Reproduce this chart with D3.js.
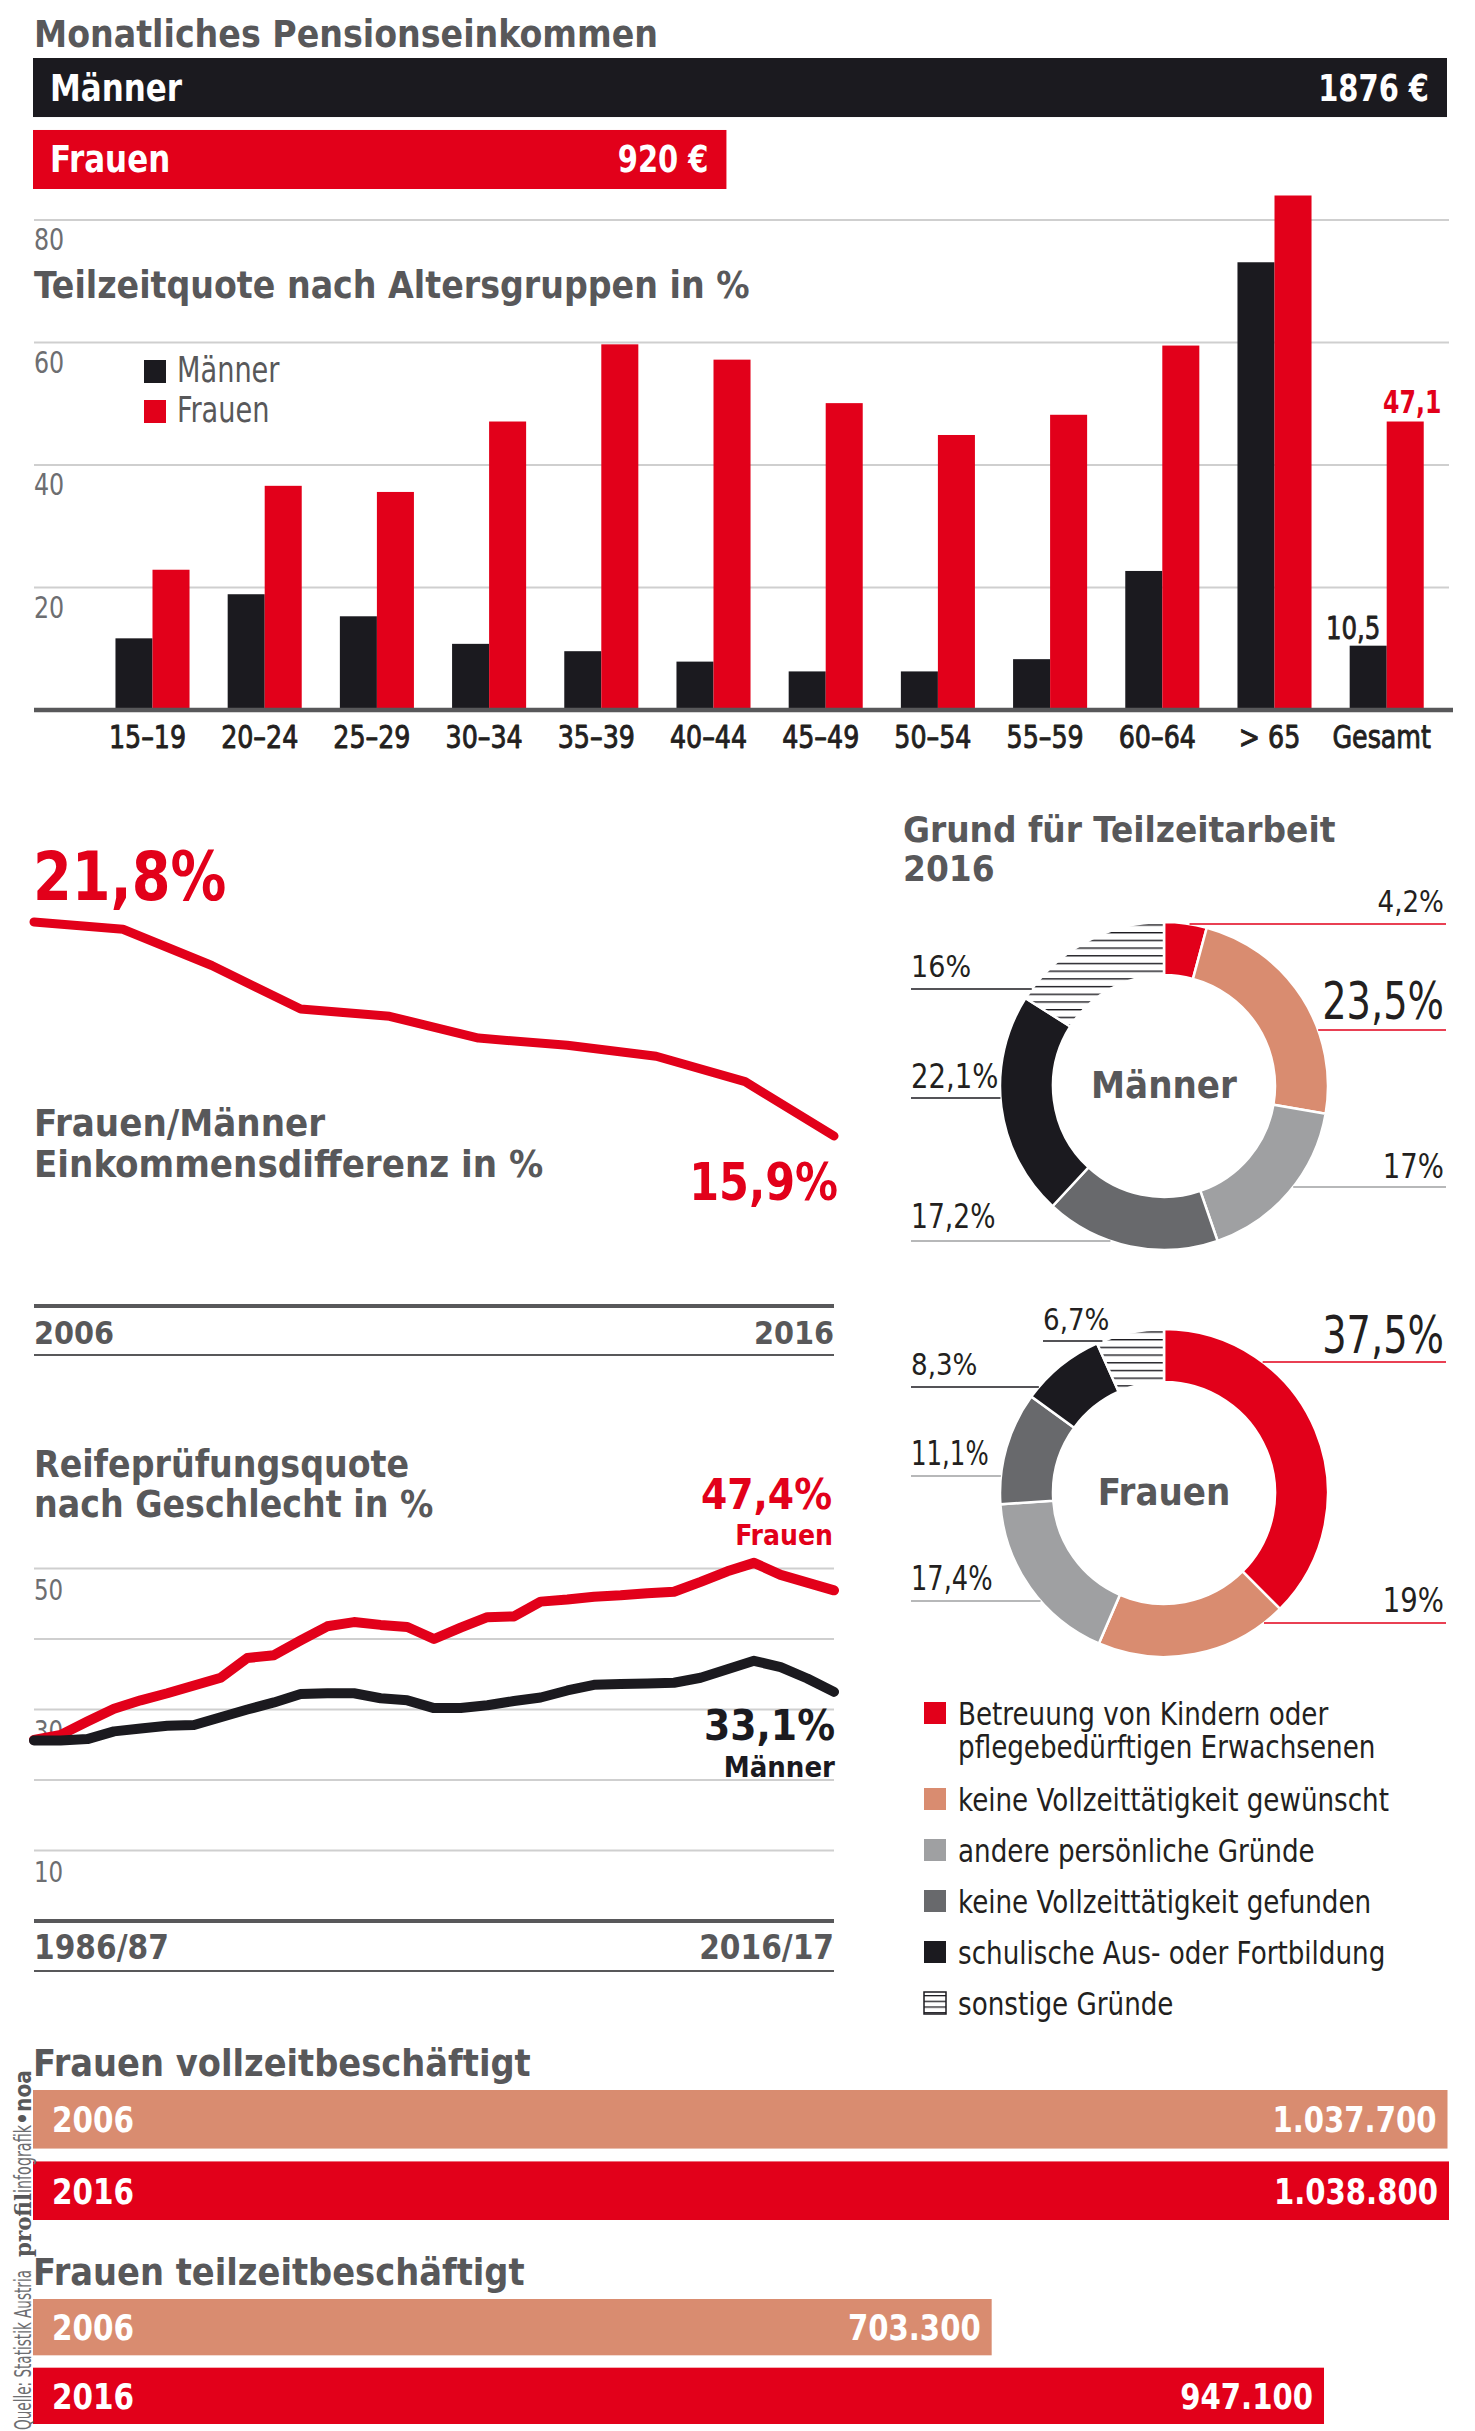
<!DOCTYPE html>
<html><head><meta charset="utf-8">
<script src="https://cdn.jsdelivr.net/npm/d3@7"></script>
<style>
body{margin:0;background:#fff}
svg{display:block}
text{font-family:'Liberation Sans Narrow','Arial Narrow','DejaVu Sans Condensed','Roboto Condensed',sans-serif;font-stretch:condensed}
</style></head><body>
<svg id="c" width="1475" height="2431"></svg>
<script>
// ---------- DATA ----------
const pensionLabels = ["Männer", "Frauen"];
const pensionValues = [1876, 920];

const ageGroups = ["15–19","20–24","25–29","30–34","35–39","40–44","45–49","50–54","55–59","60–64","> 65","Gesamt"];
const partTimeMen   = [11.7, 18.9, 15.3, 10.8, 9.6, 7.9, 6.3, 6.3, 8.3, 22.7, 73.1, 10.5];
const partTimeWomen = [22.9, 36.6, 35.6, 47.1, 59.7, 57.2, 50.1, 44.9, 48.2, 59.5, 84.0, 47.1];
const partTimeTicks = [20, 40, 60, 80];

const gapValues = [21.8, 21.6, 20.6, 19.4, 19.2, 18.6, 18.4, 18.1, 17.4, 15.9];
const gapAxisLabels = ["2006", "2016"];

const maturaYears = d3.range(1986, 2017).map(y => y + "/" + String(y + 1).slice(2));
const maturaWomen = [25.7,26.4,28.3,30.1,31.3,32.3,33.4,34.5,37.3,37.7,39.8,41.8,42.4,42.0,41.7,40.0,41.6,43.1,43.2,45.3,45.6,46.0,46.2,46.5,46.7,48.1,49.6,50.8,49.1,48.0,46.9];
const maturaMen   = [25.6,25.6,25.8,26.9,27.3,27.7,27.8,28.9,30.0,31.0,32.2,32.3,32.3,31.6,31.3,30.2,30.2,30.6,31.2,31.7,32.7,33.5,33.6,33.7,33.8,34.5,35.7,36.9,36.0,34.4,32.5];
const maturaTicks = [10, 20, 30, 40, 50];
const maturaTickLabels = [10, 30, 50];
const maturaEndLabels = ["47,4%", "33,1%"];

const reasons = [["Betreuung von Kindern oder","pflegebedürftigen Erwachsenen"],["keine Vollzeittätigkeit gewünscht"],["andere persönliche Gründe"],["keine Vollzeittätigkeit gefunden"],["schulische Aus- oder Fortbildung"],["sonstige Gründe"]];
const reasonsMen   = [4.2, 23.5, 17, 17.2, 22.1, 16];
const reasonsWomen = [37.5, 19, 17.4, 11.1, 8.3, 6.7];

const fullYears = ["2006", "2016"];
const fullTimeWomen = [1037700, 1038800];
const partTimeWomenAbs = [703300, 947100];

// ---------- STYLE ----------
const C = {red:"#e2001a", black:"#1b1a1f", salmon:"#d98c70", lgray:"#9fa0a2", dgray:"#68696c",
           title:"#58585a", grid:"#cfcfcf", text:"#231f20", tick:"#6d6e71"};
const reasonFill = [C.red, C.salmon, C.lgray, C.dgray, C.black, "url(#hatch)"];
const reasonLine = [C.red, C.red, C.lgray, C.lgray, C.black, C.black];

const svg = d3.select("#c");
const defs = svg.append("defs");
function hatch(id, h, sw){
  const p = defs.append("pattern").attr("id", id).attr("patternUnits","userSpaceOnUse")
    .attr("width", 20).attr("height", h);
  p.append("rect").attr("width",20).attr("height",h).attr("fill","#fff");
  p.append("rect").attr("y", 0).attr("width",20).attr("height",sw).attr("fill",C.black);
}
hatch("hatch", 7.7, 1.4);
hatch("hatch2", 5.7, 1.3);

// text helper: optional horizontal condensing (sx), multi-line (array + lh), faux-medium (sw)
function txt(g, x, y, s, fs, o = {}) {
  const t = g.append("text").attr("font-size", fs).attr("font-weight", o.w || "normal")
    .attr("fill", o.c || C.text).attr("text-anchor", o.a || "start");
  if (o.sw) t.attr("stroke", o.c || C.text).attr("stroke-width", o.sw).attr("stroke-linejoin", "round");
  const sx = o.sx || 1;
  t.attr("transform", `translate(${x},${y}) scale(${sx},1)`);
  const lines = Array.isArray(s) ? s : [s];
  if (lines.length === 1) t.text(lines[0]);
  else lines.forEach((l, k) => t.append("tspan").attr("x", 0).attr("y", k * (o.lh || fs)).text(l));
  return t;
}
const fmtDE = d3.formatLocale({decimal:",", thousands:".", grouping:[3], currency:["","€"]});
const fmtInt = fmtDE.format(",d");
const fmt1 = v => String(v).replace(".", ",");
const fmtPct = v => fmt1(v) + "%";

// ---------- 1. Monatliches Pensionseinkommen ----------
const g1 = svg.append("g");
txt(g1, 34, 47, "Monatliches Pensionseinkommen", 37, {w:"bold", c:C.title});
const xP = d3.scaleLinear().domain([0, d3.max(pensionValues)]).range([0, 1414]);
const yP = d3.scaleBand().domain(pensionLabels).range([58, 189]).paddingInner(0.18);
pensionLabels.forEach((l, i) => {
  const v = pensionValues[i], y = yP(l), h = yP.bandwidth();
  g1.append("rect").attr("x", 33).attr("y", y).attr("width", xP(v)).attr("height", h)
    .attr("fill", i === 0 ? C.black : C.red);
  txt(g1, 50, y + h/2 + 13, l, 37, {w:"bold", c:"#fff", sx:0.93});
  txt(g1, 33 + xP(v) - 18, y + h/2 + 13, v + " €", 37, {w:"bold", c:"#fff", a:"end", sx:0.87});
});

// ---------- 2. Teilzeitquote nach Altersgruppen ----------
const g2 = svg.append("g");
const x0 = d3.scaleBand().domain(ageGroups).range([96.4, 1442.8]).paddingInner(0.34).paddingOuter(0.17);
const x1 = d3.scaleBand().domain(["m","f"]).range([0, x0.bandwidth()]);
const yB = d3.scaleLinear().domain([0, 80]).range([710, 220]);

partTimeTicks.forEach(t => {
  g2.append("line").attr("x1", 34).attr("x2", 1449).attr("y1", yB(t)).attr("y2", yB(t))
    .attr("stroke", C.grid).attr("stroke-width", 2);
  txt(g2, 34, yB(t) + 30, t, 30, {c:C.tick, sx:0.88});
});
txt(g2, 34, 298, "Teilzeitquote nach Altersgruppen in %", 37, {w:"bold", c:C.title});

// legend
[["Männer", C.black], ["Frauen", C.red]].forEach((d, i) => {
  g2.append("rect").attr("x", 144).attr("y", 360 + i*40).attr("width", 22).attr("height", 23).attr("fill", d[1]);
  txt(g2, 177, 382 + i*40, d[0], 36, {c:C.title, sx:0.84});
});

ageGroups.forEach((a, i) => {
  [["m", partTimeMen[i], C.black], ["f", partTimeWomen[i], C.red]].forEach(([k, v, col]) => {
    g2.append("rect").attr("x", x0(a) + x1(k)).attr("y", yB(v))
      .attr("width", x1.bandwidth()).attr("height", yB(0) - yB(v)).attr("fill", col);
  });
  txt(g2, x0(a) + x0.bandwidth()/2 - 5, 748, a, 32, {c:C.text, a:"middle", sx:0.88, sw:0.9});
});
g2.append("line").attr("x1", 34).attr("x2", 1453).attr("y1", yB(0)).attr("y2", yB(0))
  .attr("stroke", C.title).attr("stroke-width", 4.5);
// value labels for Gesamt
const last = ageGroups.length - 1, ga = ageGroups[last];
txt(g2, x0(ga) + x1("m") + x1.bandwidth()/2 - 15, yB(partTimeMen[last]) - 7, fmt1(partTimeMen[last]), 32, {c:C.text, a:"middle", sx:0.85, sw:0.8});
txt(g2, x0(ga) + x1("f") + x1.bandwidth()/2 + 7, yB(partTimeWomen[last]) - 9, fmt1(partTimeWomen[last]), 32, {w:"bold", c:C.red, a:"middle", sx:0.82});

// ---------- 3. Einkommensdifferenz ----------
const g3 = svg.append("g");
const gx = d3.scalePoint().domain(d3.range(gapValues.length)).range([34, 834]);
const gy = d3.scaleLinear().domain([15.9, 21.8]).range([1136, 922]);
txt(g3, 33, 900, fmtPct(gapValues[0]), 67, {w:"bold", c:C.red, sx:0.925});
g3.append("path").datum(gapValues)
  .attr("d", d3.line().x((d, i) => gx(i)).y(d => gy(d)))
  .attr("fill", "none").attr("stroke", C.red).attr("stroke-width", 9)
  .attr("stroke-linecap", "round").attr("stroke-linejoin", "round");
txt(g3, 34, 1136, ["Frauen/Männer", "Einkommensdifferenz in %"], 38, {w:"bold", c:C.title, lh:41});
txt(g3, 838, 1200, fmtPct(gapValues[gapValues.length - 1]), 51, {w:"bold", c:C.red, a:"end", sx:0.935});
g3.append("line").attr("x1", 34).attr("x2", 834).attr("y1", 1306).attr("y2", 1306).attr("stroke", C.title).attr("stroke-width", 4);
txt(g3, 34, 1344, gapAxisLabels[0], 32, {w:"bold", c:C.title});
txt(g3, 834, 1344, gapAxisLabels[1], 32, {w:"bold", c:C.title, a:"end"});
g3.append("line").attr("x1", 34).attr("x2", 834).attr("y1", 1355).attr("y2", 1355).attr("stroke", C.title).attr("stroke-width", 2);

// ---------- 4. Reifeprüfungsquote ----------
const g4 = svg.append("g");
const mx = d3.scalePoint().domain(maturaYears).range([34, 834]);
const my = d3.scaleLinear().domain([0, 50]).range([1921, 1568.5]);
txt(g4, 34, 1477, ["Reifeprüfungsquote", "nach Geschlecht in %"], 37, {w:"bold", c:C.title, lh:40});
maturaTicks.forEach(t => {
  g4.append("line").attr("x1", 34).attr("x2", 834).attr("y1", my(t)).attr("y2", my(t))
    .attr("stroke", C.grid).attr("stroke-width", 2);
});
maturaTickLabels.forEach(t => txt(g4, 34, my(t) + 31, t, 29, {c:C.tick, sx:0.88}));
const mline = d3.line().x((d, i) => mx(maturaYears[i])).y(d => my(d));
[[maturaWomen, C.red], [maturaMen, C.black]].forEach(([vals, col]) => {
  g4.append("path").datum(vals).attr("d", mline).attr("fill", "none").attr("stroke", col)
    .attr("stroke-width", 10).attr("stroke-linecap", "round").attr("stroke-linejoin", "round");
});
txt(g4, 832, 1509, maturaEndLabels[0], 42, {w:"bold", c:C.red, a:"end"});
txt(g4, 833, 1545, "Frauen", 28, {w:"bold", c:C.red, a:"end"});
txt(g4, 835, 1740, maturaEndLabels[1], 42, {w:"bold", c:C.black, a:"end"});
txt(g4, 835, 1777, "Männer", 29, {w:"bold", c:C.black, a:"end"});
g4.append("line").attr("x1", 34).attr("x2", 834).attr("y1", 1921).attr("y2", 1921).attr("stroke", C.title).attr("stroke-width", 4);
txt(g4, 34, 1959, maturaYears[0], 33, {w:"bold", c:C.title});
txt(g4, 834, 1959, maturaYears[maturaYears.length - 1], 33, {w:"bold", c:C.title, a:"end"});
g4.append("line").attr("x1", 34).attr("x2", 834).attr("y1", 1971).attr("y2", 1971).attr("stroke", C.title).attr("stroke-width", 2);

// ---------- 5. Donuts ----------
const g5 = svg.append("g");
txt(g5, 903, 842, ["Grund für Teilzeitarbeit", "2016"], 35.5, {w:"bold", c:C.title, lh:39, sx:1.03});
const rIn = 111, rOut = 164;
const pie = d3.pie().sort(null).value(d => d);
const arc = d3.arc().innerRadius(rIn).outerRadius(rOut);

function donut(cx, cy, values, name, layout) {
  const g = g5.append("g").attr("transform", `translate(${cx},${cy})`);
  g.selectAll("path").data(pie(values)).join("path").attr("d", arc)
    .attr("fill", (d, i) => reasonFill[i]).attr("stroke", "#fff").attr("stroke-width", 2.5);
  txt(g, 0, 12, name, 38, {w:"bold", c:C.title, a:"middle"});
  layout.forEach((L, i) => {
    const dy = L.ly - cy;
    const dx = Math.sqrt(Math.max(0, rOut*rOut - dy*dy));
    const xe = L.side === "r" ? cx + dx : cx - dx;
    const xs = L.side === "r" ? 1446 : (L.lx || 911);
    g5.append("line").attr("x1", xs).attr("x2", xe).attr("y1", L.ly).attr("y2", L.ly)
      .attr("stroke", reasonLine[i]).attr("stroke-width", 1.6);
    txt(g5, L.side === "r" ? 1444 : (L.lx || 911), L.ty, fmtPct(values[i]), L.fs,
      {c:C.text, a:L.side === "r" ? "end" : "start", sx:L.sx});
  });
}
donut(1164, 1086, reasonsMen, "Männer", [
  {side:"r", ty:912, ly:924, fs:30, sx:0.97},
  {side:"r", ty:1019, ly:1030, fs:52, sx:0.82},
  {side:"r", ty:1178, ly:1187, fs:34, sx:0.9},
  {side:"l", ty:1228, ly:1241, fs:34, sx:0.87},
  {side:"l", ty:1088, ly:1098, fs:34, sx:0.9},
  {side:"l", ty:977, ly:989, fs:31, sx:0.97}
]);
donut(1164, 1493, reasonsWomen, "Frauen", [
  {side:"r", ty:1353, ly:1362, fs:52, sx:0.82},
  {side:"r", ty:1612, ly:1623, fs:34, sx:0.9},
  {side:"l", ty:1590, ly:1601, fs:34, sx:0.84},
  {side:"l", ty:1465, ly:1476, fs:34, sx:0.8},
  {side:"l", ty:1375, ly:1387, fs:30, sx:0.97},
  {side:"l", ty:1330, ly:1341, fs:30, sx:0.97, lx:1043}
]);

// legend
reasons.forEach((r, i) => {
  const top = [1702, 1788, 1839, 1890, 1941, 1992][i];
  g5.append("rect").attr("x", 924).attr("y", top).attr("width", 22).attr("height", 22)
    .attr("fill", i === 5 ? "url(#hatch2)" : reasonFill[i])
    .attr("stroke", i === 5 ? C.black : "none").attr("stroke-width", 1.5);
  txt(g5, 958, top + 23, r, 32, {c:C.text, lh:33, sx:0.91});
});

// ---------- 6. Frauen voll-/teilzeitbeschäftigt ----------
const g6 = svg.append("g");
const xE = d3.scaleLinear().domain([0, d3.max(fullTimeWomen)]).range([0, 1416]);
function empBlock(title, ty, vals, r0, r1) {
  txt(g6, 33, ty, title, 37.5, {w:"bold", c:C.title});
  const yb = d3.scaleBand().domain(fullYears).range([r0, r1]).paddingInner(0.18);
  fullYears.forEach((yr, i) => {
    const y = yb(yr), h = yb.bandwidth();
    g6.append("rect").attr("x", 33).attr("y", y).attr("width", xE(vals[i])).attr("height", h)
      .attr("fill", i === 0 ? C.salmon : C.red);
    txt(g6, 52, y + h/2 + 13, yr, 36, {w:"bold", c:"#fff", sx:0.91});
    txt(g6, 33 + xE(vals[i]) - 11, y + h/2 + 13, fmtInt(vals[i]), 36, {w:"bold", c:"#fff", a:"end", sx:0.9});
  });
}
empBlock("Frauen vollzeitbeschäftigt", 2076, fullTimeWomen, 2090, 2220);
empBlock("Frauen teilzeitbeschäftigt", 2285, partTimeWomenAbs, 2299, 2424);

// ---------- source ----------
function vtext(yStart, len, s, o) {
  svg.append("text").attr("transform", `translate(31,${yStart}) rotate(-90)`).text(s)
    .attr("font-size", 23).attr("fill", o.c || "#6d6e71").attr("font-weight", o.w || "normal")
    .attr("textLength", len).attr("lengthAdjust", "spacingAndGlyphs")
    .style("font-family", o.f || null);
}
vtext(2430, 160, "Quelle: Statistik Austria", {});
vtext(2257, 64, "profil", {w:"bold", c:"#58585a", f:"'DejaVu Serif','Liberation Serif',serif"});
vtext(2193, 68, "infografik", {});
vtext(2125, 55, "•noa", {w:"bold", c:"#58585a"});
</script>
</body></html>
